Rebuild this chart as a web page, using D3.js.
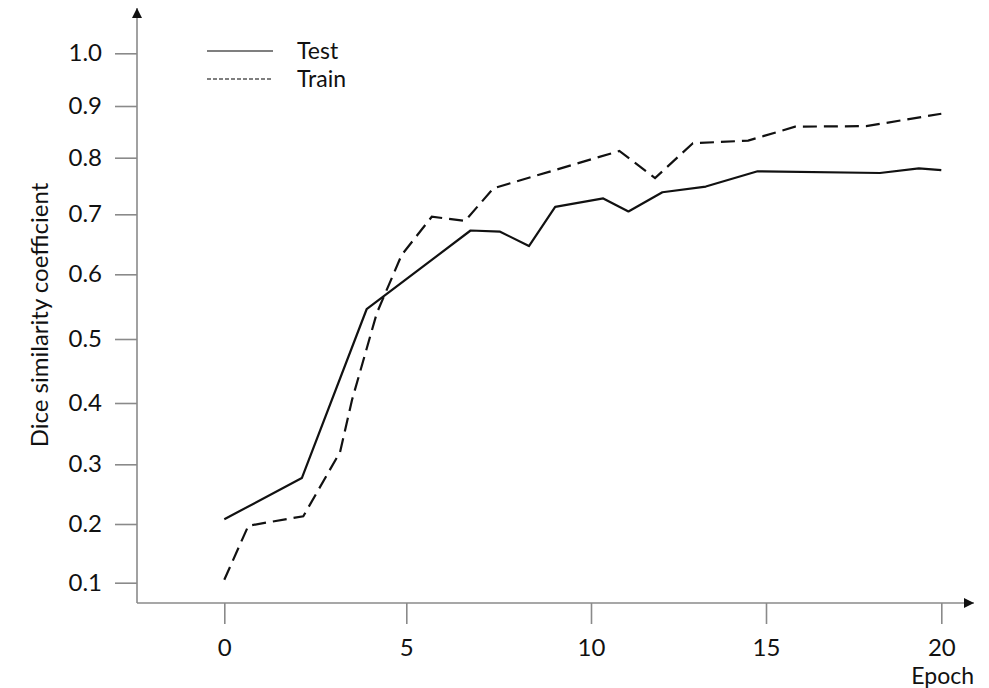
<!DOCTYPE html>
<html>
<head>
<meta charset="utf-8">
<script src="https://cdn.jsdelivr.net/npm/d3@7"></script>
<style>
    body { margin: 0; background: #fff; }
    text { font-family: Lato, "Open Sans", sans-serif; fill: #111; }
</style>
</head>
<body>
<svg width="989" height="688"></svg>
<script>
const epochsTest = [0, 2.13, 3.91, 6.74, 7.54, 8.32, 9.03, 10.35, 11.07, 12.04, 13.28, 14.76, 18.25, 19.36, 20];
const diceTest = [0.208, 0.277, 0.546, 0.673, 0.671, 0.647, 0.713, 0.728, 0.705, 0.739, 0.749, 0.776, 0.773, 0.781, 0.778];

const epochsTrain = [0, 0.66, 2.17, 3.18, 3.51, 4.19, 4.87, 5.69, 6.59, 7.36, 10.81, 11.83, 12.91, 14.49, 15.83, 17.86, 20];
const diceTrain = [0.105, 0.197, 0.213, 0.320, 0.405, 0.540, 0.632, 0.696, 0.689, 0.746, 0.813, 0.764, 0.828, 0.833, 0.860, 0.861, 0.885];

const xTicks = [0, 5, 10, 15, 20];
const yTicks = [0.1, 0.2, 0.3, 0.4, 0.5, 0.6, 0.7, 0.8, 0.9, 1.0];
const seriesNames = ["Test", "Train"];

const svg = d3.select("svg");

// the source axes are not evenly spaced, so use piecewise scales
const x = d3.scaleLinear(xTicks, [224.3, 406.3, 591, 766, 941.3]);
const y = d3.scaleLinear(yTicks, [582.7, 524, 464.3, 403, 339, 274.3, 214.3, 157.7, 106, 53.3]);

const axisColor = "#8a8a8a";
const originX = 137, originY = 603;

svg.append("defs")
    .append("marker")
    .attr("id", "arrow")
    .attr("viewBox", "0 0 10 10")
    .attr("refX", 10)
    .attr("refY", 5)
    .attr("markerUnits", "userSpaceOnUse")
    .attr("markerWidth", 11)
    .attr("markerHeight", 10)
    .attr("orient", "auto")
    .append("path")
    .attr("d", "M0,0 L10,5 L0,10 z")
    .attr("fill", "#111");

svg.append("line")
    .attr("x1", originX).attr("y1", originY)
    .attr("x2", originX).attr("y2", 8)
    .attr("stroke", axisColor)
    .attr("stroke-width", 1.6)
    .attr("marker-end", "url(#arrow)");

svg.append("line")
    .attr("x1", originX).attr("y1", originY)
    .attr("x2", 974).attr("y2", originY)
    .attr("stroke", axisColor)
    .attr("stroke-width", 1.6)
    .attr("marker-end", "url(#arrow)");

const yAxis = svg.append("g")
    .attr("transform", `translate(${originX},0)`)
    .call(d3.axisLeft(y)
        .tickValues(yTicks)
        .tickFormat(d3.format(".1f"))
        .tickSize(22)
        .tickPadding(13));

const xAxis = svg.append("g")
    .attr("transform", `translate(0,${originY})`)
    .call(d3.axisBottom(x)
        .tickValues(xTicks)
        .tickFormat(d3.format("d"))
        .tickSize(21)
        .tickPadding(15));

[yAxis, xAxis].forEach(g => {
    g.select(".domain").remove();
    g.selectAll(".tick line").attr("stroke", axisColor).attr("stroke-width", 1.6);
    g.selectAll(".tick text")
        .attr("font-family", null)
        .style("font-size", "24px")
        .attr("fill", "#111");
});

svg.append("text")
    .attr("transform", "translate(48,315) rotate(-90)")
    .attr("text-anchor", "middle")
    .style("font-size", "24px")
    .text("Dice similarity coefficient");

svg.append("text")
    .attr("x", 974)
    .attr("y", 684)
    .attr("text-anchor", "end")
    .style("font-size", "23px")
    .text("Epoch");

const line = d3.line()
    .x(d => x(d[0]))
    .y(d => y(d[1]));

svg.append("path")
    .datum(d3.zip(epochsTest, diceTest))
    .attr("fill", "none")
    .attr("stroke", "#111")
    .attr("stroke-width", 2.2)
    .attr("stroke-linejoin", "round")
    .attr("d", line);

svg.append("path")
    .datum(d3.zip(epochsTrain, diceTrain))
    .attr("fill", "none")
    .attr("stroke", "#111")
    .attr("stroke-width", 2.2)
    .attr("stroke-dasharray", "14,7")
    .attr("d", line);

const legend = svg.append("g")
    .selectAll("g")
    .data(seriesNames)
    .enter()
    .append("g")
    .attr("transform", (d, i) => `translate(207,${51 + i * 28})`);

legend.append("line")
    .attr("x1", 0).attr("x2", 66)
    .attr("stroke", "#555")
    .attr("stroke-width", 1.4)
    .attr("stroke-dasharray", (d, i) => i ? "4,2" : null);

legend.append("text")
    .attr("x", 90)
    .attr("dy", "0.35em")
    .style("font-size", "23px")
    .text(d => d);
</script>
</body>
</html>
